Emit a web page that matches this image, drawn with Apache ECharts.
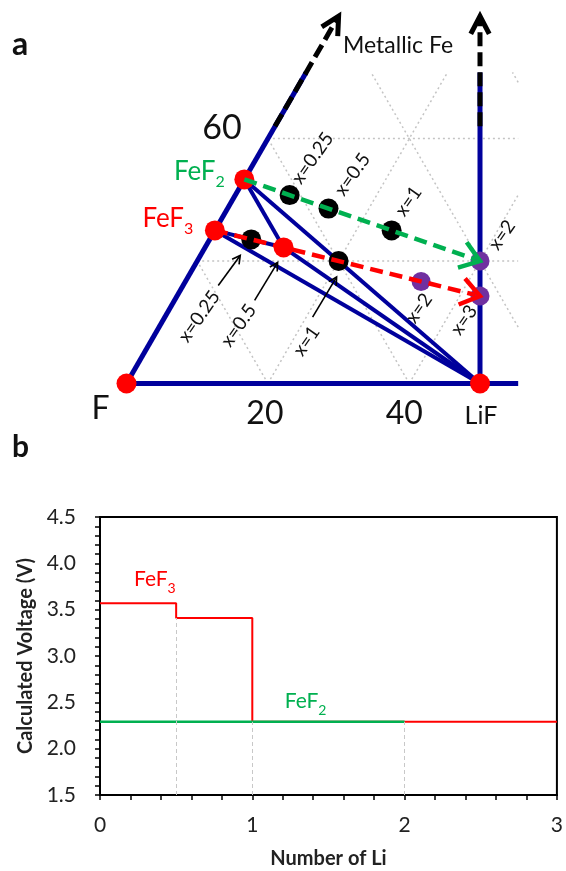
<!DOCTYPE html>
<html>
<head>
<meta charset="utf-8">
<script src="https://cdn.jsdelivr.net/npm/echarts@6/dist/echarts.min.js"></script>
<style>
  html, body { margin: 0; padding: 0; background: #fff; }
  #chart { width: 566px; height: 871px; }
</style>
</head>
<body>
<div id="chart"></div>
<script>
// ---------- Panel a: Li–Fe–F composition triangle ----------
// Stable phases, given as atoms of Li, Fe and F per formula unit
const phaseNames = ['F', 'LiF', 'FeF2', 'FeF3', 'Li0.5FeF3'];
const phaseLi    = [0, 1, 0, 0, 0.5];
const phaseFe    = [0, 0, 1, 1, 1];
const phaseF     = [1, 1, 2, 3, 3];

// Tie lines between phases
const tieFrom = ['FeF3', 'FeF3', 'Li0.5FeF3', 'FeF2', 'FeF2'];
const tieTo   = ['LiF', 'Li0.5FeF3', 'LiF', 'Li0.5FeF3', 'LiF'];

// Lithium content x in LixFeF2 and LixFeF3 along the lithiation paths
const lithFeF2 = [0.25, 0.5, 1, 2];
const lithFeF3 = [0.25, 0.5, 1, 2, 3];

// Triangle grid levels (atomic fraction) and the numbers written on the edges
const gridLevels = [0.2, 0.4, 0.6, 0.8];
const liTickFrac = [0.2, 0.4];
const liTickText = ['20', '40'];
const fTickFeFrac = [0.4];
const fTickText = ['60'];

// Fe fraction range of the arrows pointing toward metallic Fe
const feArrowFrom = 0.42;
const feArrowTo = 0.6;

// ---------- Panel b: calculated voltage profiles ----------
const fef3Li = [0, 0.5, 1, 3];
const fef3V  = [3.57, 3.41, 2.29];
const fef2Li = [0, 2];
const fef2V  = [2.29];
const voltTicks = [1.5, 4.5, 0.5];   // min, max, step
const liTicks = [0, 3, 1];           // min, max, step

// ---------- helpers ----------
const FONT = 'Lato';
const S3 = Math.sqrt(3);
const BLUE = '#00009C', RED = '#FF0000', GREEN = '#00B050', PURPLE = '#7030A0';
const abToXY = (a, b) => [a + b / 2, b * S3 / 2];
const formulaXY = (li, fe, f) => { const n = li + fe + f; return abToXY(li / n, fe / n); };
const phaseXY = name => {
  const i = phaseNames.indexOf(name);
  return formulaXY(phaseLi[i], phaseFe[i], phaseF[i]);
};
const lithXY = (x, nF) => formulaXY(x, 1, nF);

// visible window of the triangle (composition-plane units)
const VIEW_X = 0.554, VIEW_Y = 0.44;
// placement of the composition plane on the page
const ORIGIN_PX = [126.5, 383.5], UNIT_PX = 707;
const AX = [-0.15, 0.6], AY = [-0.1, 0.53];

function gridSegments() {
  const segs = [];
  gridLevels.forEach(t => {
    const y = t * S3 / 2;
    if (y <= VIEW_Y) segs.push([t / 2, y, VIEW_X, y]);                // constant Fe
    if (t < VIEW_X) {                                                  // constant Li
      const yEnd = Math.min(VIEW_Y, (VIEW_X - t) * S3);
      segs.push([t, 0, t + yEnd / S3, yEnd]);
    }
    const x0 = 1 - t;                                                  // constant F
    const yStart = x0 > VIEW_X ? (x0 - VIEW_X) * S3 : 0;
    const yEnd = Math.min(VIEW_Y, x0 * S3 / 2);
    if (yStart < yEnd) segs.push([x0 - yStart / S3, yStart, x0 - yEnd / S3, yEnd]);
  });
  return segs;
}

const frameSegs = [
  [0, 0, VIEW_X, 0],
  [0, 0, VIEW_Y / S3, VIEW_Y],
  [0.5, 0, 0.5, VIEW_Y]
];
const tieSegs = tieFrom.map((p, i) => phaseXY(p).concat(phaseXY(tieTo[i])));

function segmentSeries(segs, style, z) {
  return {
    type: 'custom', xAxisIndex: 0, yAxisIndex: 0, z, silent: true,
    data: segs, encode: { x: [0, 2], y: [1, 3] },
    renderItem: (p, api) => {
      const a = api.coord([api.value(0), api.value(1)]);
      const b = api.coord([api.value(2), api.value(3)]);
      return { type: 'line', shape: { x1: a[0], y1: a[1], x2: b[0], y2: b[1] },
               style: Object.assign({ fill: null, lineCap: 'butt' }, style) };
    }
  };
}

function arrowGroup(p1, p2, color, width, dash, headLen, headAng) {
  const dx = p2[0] - p1[0], dy = p2[1] - p1[1];
  const len = Math.hypot(dx, dy), ux = dx / len, uy = dy / len;
  const rot = ang => [ux * Math.cos(ang) - uy * Math.sin(ang), ux * Math.sin(ang) + uy * Math.cos(ang)];
  const r1 = rot(headAng), r2 = rot(-headAng);
  const h1 = [p2[0] - r1[0] * headLen, p2[1] - r1[1] * headLen];
  const h2 = [p2[0] - r2[0] * headLen, p2[1] - r2[1] * headLen];
  return {
    type: 'group',
    children: [
      { type: 'line', shape: { x1: p1[0], y1: p1[1], x2: p2[0] - ux * width, y2: p2[1] - uy * width },
        style: { stroke: color, lineWidth: width, lineDash: dash, fill: null } },
      { type: 'polyline', shape: { points: [h1, p2, h2] },
        style: { stroke: color, lineWidth: width, fill: null, lineJoin: 'miter' } }
    ]
  };
}

function arrowSeries(arrows, color, width, dash, headLen, headAng, z) {
  return {
    type: 'custom', xAxisIndex: 0, yAxisIndex: 0, z, silent: true,
    data: arrows, encode: { x: [0, 2], y: [1, 3] },
    renderItem: (p, api) => arrowGroup(
      api.coord([api.value(0), api.value(1)]), api.coord([api.value(2), api.value(3)]),
      color, width, dash, headLen, headAng)
  };
}

// ---------- marks of panel a ----------
const redDots = phaseNames.map(phaseXY);
const blackDots = [], purpleDots = [];
lithFeF2.forEach(x => (x >= 2 ? purpleDots : blackDots).push(lithXY(x, 2)));
lithFeF3.forEach(x => {
  if (x >= 2) purpleDots.push(lithXY(x, 3));
  else if (!phaseNames.includes('Li' + x + 'FeF3')) blackDots.push(lithXY(x, 3));
});

const metalArrows = [
  abToXY(0, feArrowFrom).concat(abToXY(0, feArrowTo)),
  abToXY((1 - feArrowFrom) / 2, feArrowFrom).concat(abToXY((1 - feArrowTo) / 2, feArrowTo))
];
const fef2Path = [phaseXY('FeF2').concat(lithXY(lithFeF2[lithFeF2.length - 1], 2))];
const fef3Path = [phaseXY('FeF3').concat(lithXY(lithFeF3[lithFeF3.length - 1], 3))];

// ---------- text of panel a ----------
const labelsA = [];
function addLabel(anchor, dx, dy, text, opt) {
  labelsA.push(Object.assign({ anchor, dx, dy, text, size: 19, color: '#111', rotate: 0 }, opt || {}));
}
const subRich = (main, sub, color, lh) => ({
  m: { fontSize: main, fontFamily: FONT, fill: color, lineHeight: lh, verticalAlign: 'middle' },
  s: { fontSize: sub, fontFamily: FONT, fill: color, lineHeight: sub, verticalAlign: 'bottom' }
});

addLabel(phaseXY('F'), -26, 25, 'F', { size: 32 });
addLabel(phaseXY('LiF'), 1, 32, 'LiF', { size: 25 });
addLabel(phaseXY('FeF2'), -45, -8, '{m|FeF}{s|2}', { rich: subRich(26, 16, GREEN, 36) });
addLabel(phaseXY('FeF3'), -47, -12, '{m|FeF}{s|3}', { rich: subRich(26, 16, RED, 36) });
const liTickOff = [[-3, 30], [-5, 30]];
liTickFrac.forEach((a, i) => addLabel(abToXY(a, 0), liTickOff[i][0], liTickOff[i][1], liTickText[i], { size: 32 }));
fTickFeFrac.forEach((b, i) => addLabel(abToXY(0, b), -46, -11, fTickText[i], { size: 34 }));

const fef2LabelOff = [[23, -37], [24, -34], [17, -29], [22, -26]];
lithFeF2.forEach((x, i) => addLabel(lithXY(x, 2), fef2LabelOff[i][0], fef2LabelOff[i][1], 'x=' + x, { rotate: 55 }));
const fef3LabelOff = [[-52, 77], [-45, 78], [-32, 80], [-2, 27], [-16, 24]];
lithFeF3.forEach((x, i) => addLabel(lithXY(x, 3), fef3LabelOff[i][0], fef3LabelOff[i][1], 'x=' + x, { rotate: 55 }));

// small pointer arrows from the lower labels to their points
const pointerOff = [[-33, 46, -11, 16], [-29, 53, -6, 15], [-26, 56, -2, 16]];
const pointerTargets = lithFeF3.slice(0, 3).map(x => lithXY(x, 3));

function textSeries(xAxisIndex, yAxisIndex, labels, z) {
  return {
    type: 'custom', xAxisIndex, yAxisIndex, z, silent: true,
    data: labels.map(l => l.anchor), encode: { x: 0, y: 1 },
    renderItem: (p, api) => {
      const l = labels[p.dataIndex];
      const pt = api.coord([api.value(0), api.value(1)]);
      const style = { text: l.text, fill: l.color, fontSize: l.size, fontFamily: FONT,
                      fontWeight: l.weight || 'normal', align: 'center', verticalAlign: 'middle' };
      if (l.rich) style.rich = l.rich;
      return { type: 'text', x: pt[0] + l.dx, y: pt[1] + l.dy,
               rotation: l.rotate * Math.PI / 180, style };
    }
  };
}

// ---------- panel b text ----------
const labelsB = [];
labelsB.push({ anchor: [0.36, 3.83], dx: 0, dy: 0, text: '{m|FeF}{s|3}', color: RED, size: 21,
               rotate: 0, rich: subRich(21, 14, RED, 32) });
labelsB.push({ anchor: [1.35, 2.51], dx: 0, dy: 0, text: '{m|FeF}{s|2}', color: GREEN, size: 21,
               rotate: 0, rich: subRich(21, 14, GREEN, 32) });

const fef3Step = fef3V.map((v, i) => [fef3Li[i], v]).concat([[fef3Li[fef3Li.length - 1], fef3V[fef3V.length - 1]]]);
const fef2Step = fef2V.map((v, i) => [fef2Li[i], v]).concat([[fef2Li[fef2Li.length - 1], fef2V[fef2V.length - 1]]]);

// dashed guides at plateau boundaries
const guides = [];
for (let i = 1; i < fef3Li.length - 1; i++) guides.push([fef3Li[i], Math.min(fef3V[i - 1], fef3V[i])]);
guides.push([fef2Li[fef2Li.length - 1], fef2V[fef2V.length - 1]]);

// ---------- chart ----------
const chart = echarts.init(document.getElementById('chart'));
const tickStyle = { color: '#000', width: 1.5 };

chart.setOption({
  animation: false,
  backgroundColor: '#fff',
  textStyle: { fontFamily: FONT },
  grid: [
    { left: ORIGIN_PX[0] + AX[0] * UNIT_PX, top: ORIGIN_PX[1] - AY[1] * UNIT_PX,
      width: (AX[1] - AX[0]) * UNIT_PX, height: (AY[1] - AY[0]) * UNIT_PX, show: false },
    { left: 100, top: 517, width: 458, height: 278, show: true, borderColor: '#000', borderWidth: 2 }
  ],
  xAxis: [
    { gridIndex: 0, type: 'value', min: AX[0], max: AX[1], show: false },
    { gridIndex: 1, type: 'value', min: liTicks[0], max: liTicks[1], interval: liTicks[2],
      axisLine: { lineStyle: { color: '#000', width: 2 } },
      axisTick: { show: true, inside: false, length: 5, lineStyle: tickStyle },
      minorTick: { show: true, splitNumber: 5, length: 5, lineStyle: tickStyle },
      splitLine: { show: false },
      axisLabel: { fontSize: 21, color: '#222', margin: 20, fontFamily: FONT },
      name: 'Number of Li', nameLocation: 'middle', nameGap: 54,
      nameTextStyle: { fontSize: 20, fontWeight: 'bold', color: '#222', fontFamily: FONT } }
  ],
  yAxis: [
    { gridIndex: 0, type: 'value', min: AY[0], max: AY[1], show: false },
    { gridIndex: 1, type: 'value', min: voltTicks[0], max: voltTicks[1], interval: voltTicks[2],
      axisLine: { show: true, lineStyle: { color: '#000', width: 2 } },
      axisTick: { show: true, inside: false, length: 5, lineStyle: tickStyle },
      minorTick: { show: true, splitNumber: 5, length: 5, lineStyle: tickStyle },
      splitLine: { show: false },
      axisLabel: { fontSize: 21, color: '#222', margin: 24, fontFamily: FONT,
                   formatter: v => v.toFixed(1) },
      name: 'Calculated Voltage (V)', nameLocation: 'middle', nameGap: 62, nameRotate: 90,
      nameTextStyle: { fontSize: 20, fontWeight: 'bold', color: '#222', fontFamily: FONT } }
  ],
  graphic: [
    { type: 'text', left: 12, top: 29, style: { text: 'a', fontSize: 32, fontWeight: 'bold', fontFamily: FONT, fill: '#111' } },
    { type: 'text', left: 343, top: 34, style: { text: 'Metallic Fe', fontSize: 23, fontFamily: FONT, fill: '#111' } },
    { type: 'text', left: 12, top: 432, style: { text: 'b', fontSize: 30, fontWeight: 'bold', fontFamily: FONT, fill: '#111' } }
  ],
  series: [
    segmentSeries(gridSegments(), { stroke: '#C4C4C4', lineWidth: 1.5, lineDash: [2, 3] }, 1),
    segmentSeries(frameSegs, { stroke: BLUE, lineWidth: 5 }, 2),
    segmentSeries(tieSegs, { stroke: BLUE, lineWidth: 4 }, 2),
    arrowSeries(metalArrows, '#000', 5, [14, 6], 20, 0.48, 3),
    { type: 'scatter', xAxisIndex: 0, yAxisIndex: 0, z: 4, silent: true, data: redDots,
      symbolSize: 20, itemStyle: { color: RED, opacity: 1 } },
    { type: 'scatter', xAxisIndex: 0, yAxisIndex: 0, z: 4, silent: true, data: blackDots,
      symbolSize: 20, itemStyle: { color: '#000', opacity: 1 } },
    { type: 'scatter', xAxisIndex: 0, yAxisIndex: 0, z: 4, silent: true, data: purpleDots,
      symbolSize: 19, itemStyle: { color: PURPLE, opacity: 1 } },
    arrowSeries(fef2Path, GREEN, 4.5, [13, 7], 23, 0.62, 5),
    arrowSeries(fef3Path, RED, 4.5, [13, 7], 23, 0.62, 5),
    {
      type: 'custom', xAxisIndex: 0, yAxisIndex: 0, z: 6, silent: true,
      data: pointerTargets, encode: { x: 0, y: 1 },
      renderItem: (p, api) => {
        const pt = api.coord([api.value(0), api.value(1)]);
        const o = pointerOff[p.dataIndex];
        return arrowGroup([pt[0] + o[0], pt[1] + o[1]], [pt[0] + o[2], pt[1] + o[3]], '#000', 1.6, null, 9, 0.5);
      }
    },
    textSeries(0, 0, labelsA, 6),

    // panel b
    { type: 'line', xAxisIndex: 1, yAxisIndex: 1, z: 1, silent: true, data: [],
      markLine: { silent: true, symbol: ['none', 'none'], label: { show: false },
        lineStyle: { color: '#C8C8C8', width: 1, type: [4, 3] },
        data: guides.map(g => [{ coord: [g[0], voltTicks[0]] }, { coord: [g[0], g[1]] }]) } },
    { type: 'line', name: 'FeF3', xAxisIndex: 1, yAxisIndex: 1, z: 2, step: 'end', data: fef3Step,
      showSymbol: false, symbol: 'none', lineStyle: { color: RED, width: 2 }, silent: true },
    { type: 'line', name: 'FeF2', xAxisIndex: 1, yAxisIndex: 1, z: 3, step: 'end', data: fef2Step,
      showSymbol: false, symbol: 'none', lineStyle: { color: GREEN, width: 2.5 }, silent: true },
    textSeries(1, 1, labelsB, 6)
  ]
});
</script>
</body>
</html>
